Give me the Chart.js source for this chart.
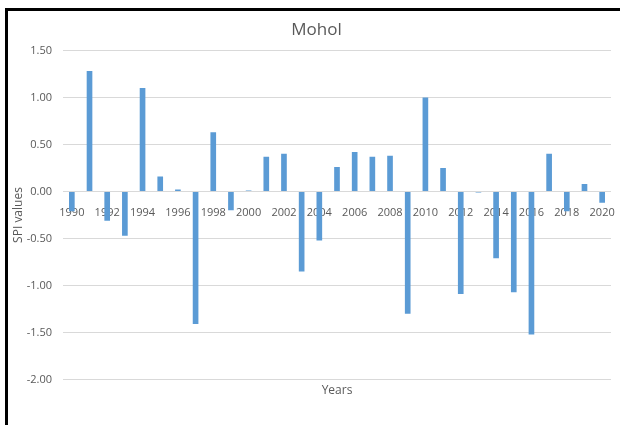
<!DOCTYPE html>
<html>
<head>
<meta charset="utf-8">
<script src="https://cdn.jsdelivr.net/npm/chart.js@4"></script>
<style>
    html, body { margin: 0; padding: 0; background: #fff; }
    #wrap { position: relative; width: 620px; height: 425px; overflow: hidden; }
    #frame {
        position: absolute; left: 5px; top: 8px; width: 700px; height: 500px;
        border-left: 3px solid #000; border-top: 3px solid #000; pointer-events: none;
    }
    canvas { position: absolute; left: 0; top: 0; }
</style>
</head>
<body>
<div id="wrap">
    <canvas id="chart" width="620" height="425"></canvas>
    <div id="frame"></div>
</div>
<script>
// Mohol — SPI values by year

const years = [
    '1990', '1991', '1992', '1993', '1994', '1995', '1996', '1997', '1998', '1999',
    '2000', '2001', '2002', '2003', '2004', '2005', '2006', '2007', '2008', '2009',
    '2010', '2011', '2012', '2013', '2014', '2015', '2016', '2017', '2018', '2019', '2020'
];

const spiValues = [
    -0.21, 1.28, -0.31, -0.47, 1.10, 0.16, 0.02, -1.41, 0.63, -0.20,
    0.01, 0.37, 0.40, -0.85, -0.52, 0.26, 0.42, 0.37, 0.38, -1.30,
    1.00, 0.25, -1.09, -0.01, -0.71, -1.07, -1.52, 0.40, -0.21, 0.08, -0.12
];

const yTicks = [-2, -1.5, -1, -0.5, 0, 0.5, 1, 1.5];

const textColor = '#595959';
const gridColor = '#d9d9d9';
const font = 'Open Sans';

new Chart(document.getElementById('chart'), {
    type: 'bar',
    data: {
        labels: years,
        datasets: [{
            label: 'SPI',
            data: spiValues,
            backgroundColor: '#5b9bd5',
            barPercentage: 0.32,
            categoryPercentage: 1.0
        }]
    },
    options: {
        responsive: false,
        animation: false,
        // extra left padding so the title centres on the frame like the original
        layout: { padding: { left: 22, right: 9, top: 20, bottom: 27 } },
        plugins: {
            legend: { display: false },
            tooltip: { enabled: false },
            title: {
                display: true,
                text: 'Mohol',
                color: textColor,
                font: { family: font, size: 17, weight: 'normal' },
                padding: { top: 0, bottom: 10 }
            }
        },
        scales: {
            x: {
                offset: true,
                grid: { display: false, drawTicks: false },
                border: { display: false },
                ticks: { display: false },
                title: {
                    display: true,
                    text: 'Years',
                    color: textColor,
                    font: { family: font, size: 12 },
                    padding: { top: 4, bottom: 0 }
                }
            },
            // year labels sit next to the zero line, as in the original
            xLabels: {
                axis: 'x',
                type: 'category',
                labels: years,
                offset: true,
                position: { y: 0 },
                grid: { display: false, drawTicks: false },
                border: { display: false },
                ticks: {
                    autoSkip: false,
                    maxRotation: 0,
                    color: textColor,
                    font: { family: font, size: 11 },
                    padding: 15,
                    callback: (v, i) => (i % 2 === 0 ? years[i] : '')
                },
                afterFit: (scale) => { scale.paddingLeft = 0; scale.paddingRight = 0; }
            },
            y: {
                min: yTicks[0],
                max: yTicks[yTicks.length - 1],
                afterBuildTicks: (scale) => { scale.ticks = yTicks.map(v => ({ value: v })); },
                afterFit: (scale) => { scale.width = 41; },
                grid: { color: gridColor, drawTicks: false },
                border: { display: false },
                ticks: {
                    color: textColor,
                    font: { family: font, size: 11 },
                    padding: 11,
                    callback: (v) => Number(v).toFixed(2)
                },
                title: {
                    display: true,
                    text: 'SPI values',
                    color: textColor,
                    font: { family: font, size: 12 },
                    padding: { top: -11, bottom: 0 }
                }
            }
        }
    }
});
</script>
</body>
</html>
